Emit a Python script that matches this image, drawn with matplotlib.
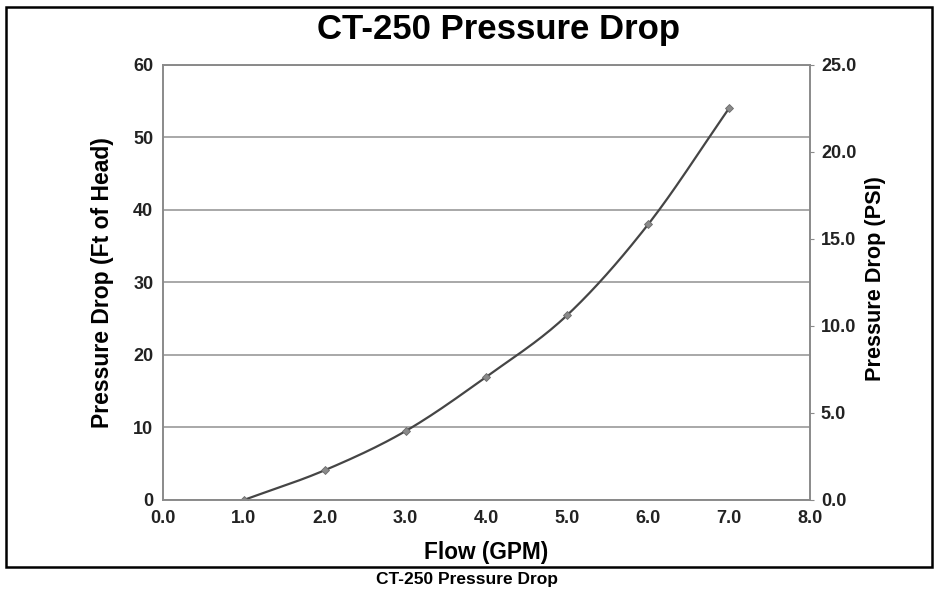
import matplotlib.pyplot as plt
from matplotlib import font_manager
from matplotlib.patches import Rectangle
import numpy as np

# data
flow = [1.0, 2.0, 3.0, 4.0, 5.0, 6.0, 7.0]
head = [0.0, 4.1, 9.5, 17.0, 25.5, 38.0, 54.0]
left_ticks = [0, 10, 20, 30, 40, 50, 60]
right_ticks = [0.0, 5.0, 10.0, 15.0, 20.0, 25.0]
x_ticks = [0.0, 1.0, 2.0, 3.0, 4.0, 5.0, 6.0, 7.0, 8.0]

plt.rcParams['font.family'] = ['Liberation Sans', 'DejaVu Sans']

# tick labels in the original use a narrow face, use one if it is there
names = set(f.name for f in font_manager.fontManager.ttflist)
if 'Liberation Sans Narrow' in names:
    tick_font = dict(family='Liberation Sans Narrow', size=14.5)
else:
    tick_font = dict(family='Liberation Sans', size=13)


def smooth(xs, ys, n=30):
    # catmull-rom through the points, only for drawing the curve
    xs = np.asarray(xs, float)
    ys = np.asarray(ys, float)
    px = np.concatenate([[2 * xs[0] - xs[1]], xs, [2 * xs[-1] - xs[-2]]])
    py = np.concatenate([[2 * ys[0] - ys[1]], ys, [2 * ys[-1] - ys[-2]]])
    ox, oy = [], []
    t = np.linspace(0, 1, n)
    for i in range(1, len(px) - 2):
        for p, o in ((px, ox), (py, oy)):
            p0, p1, p2, p3 = p[i - 1], p[i], p[i + 1], p[i + 2]
            o.extend(0.5 * (2 * p1 + (-p0 + p2) * t
                            + (2 * p0 - 5 * p1 + 4 * p2 - p3) * t ** 2
                            + (-p0 + 3 * p1 - 3 * p2 + p3) * t ** 3))
    return ox, oy


fig = plt.figure(figsize=(9.34, 5.95), dpi=100)
ax = fig.add_axes([0.1745, 0.1597, 0.867 - 0.1745, 0.8908 - 0.1597])

sx, sy = smooth(flow, head)
ax.plot(sx, sy, color='#454545', lw=1.6, zorder=3)
ax.plot(flow, head, ls='none', marker='D', ms=4.5, mfc='#8a8a8a',
        mec='#6a6a6a', mew=0.6, zorder=4)

ax.set_xlim(0, 8)
ax.set_ylim(0, 60)
ax.set_xticks(x_ticks)
ax.set_xticklabels(['%.1f' % v for v in x_ticks])
ax.set_yticks(left_ticks)
ax.yaxis.grid(True, color='#9a9a9a', lw=1.2)
ax.set_axisbelow(True)
for s in ax.spines.values():
    s.set_color('#8a8a8a')
    s.set_linewidth(1.2)
ax.tick_params(axis='x', length=0, pad=7, colors='#222222')
ax.tick_params(axis='y', length=0, pad=7, labelcolor='#222222')

ax2 = ax.twinx()
ax2.set_ylim(0, 25)
ax2.set_yticks(right_ticks)
ax2.set_yticklabels(['%.1f' % v for v in right_ticks])
ax2.tick_params(axis='y', length=3, color='#8a8a8a', pad=5,
                labelcolor='#222222')
for s in ax2.spines.values():
    s.set_color('#8a8a8a')
    s.set_linewidth(1.2)

for lab in ax.get_xticklabels() + ax.get_yticklabels() + ax2.get_yticklabels():
    lab.set_fontweight('bold')
    lab.set_family(tick_font['family'])
    lab.set_fontsize(tick_font['size'])

ax.set_xlabel('Flow (GPM)', fontsize=16.3, fontweight='bold', labelpad=10)
ax.set_ylabel('Pressure Drop (Ft of Head)', fontsize=16.5, fontweight='bold',
              labelpad=14)
ax2.set_ylabel('Pressure Drop (PSI)', fontsize=15.6, fontweight='bold')
ax2.yaxis.set_label_coords(1.086, 0.51)
fig.text(0.534, 0.951, 'CT-250 Pressure Drop', ha='center', va='center',
         fontsize=25, fontweight='bold')
fig.text(0.5, 0.026, 'CT-250 Pressure Drop', ha='center', va='center',
         fontsize=12.5, fontweight='bold')

fig.patches.append(Rectangle((6 / 934, 1 - 567 / 595), 926 / 934, 560 / 595,
                             transform=fig.transFigure, fill=False,
                             ec='black', lw=1.8))

fig.savefig('out.png', dpi=100)
